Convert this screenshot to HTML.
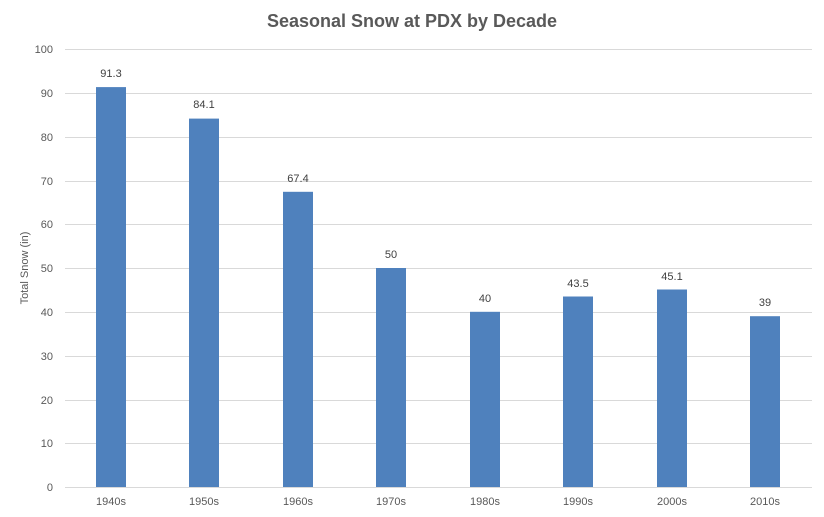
<!DOCTYPE html>
<html><head><meta charset="utf-8"><style>
body{margin:0;background:#fff;}
svg{display:block;font-family:"Liberation Sans",sans-serif;}
</style></head><body>
<svg width="824" height="517" viewBox="0 0 824 517">
<rect width="824" height="517" fill="#fff"/>
<text x="412" y="27" text-anchor="middle" font-size="18" font-weight="bold" fill="#595959">Seasonal Snow at PDX by Decade</text>
<g stroke="#d9d9d9" stroke-width="1">
<line x1="65" x2="812" y1="49.5" y2="49.5"/>
<line x1="65" x2="812" y1="93.5" y2="93.5"/>
<line x1="65" x2="812" y1="137.5" y2="137.5"/>
<line x1="65" x2="812" y1="181.5" y2="181.5"/>
<line x1="65" x2="812" y1="224.5" y2="224.5"/>
<line x1="65" x2="812" y1="268.5" y2="268.5"/>
<line x1="65" x2="812" y1="312.5" y2="312.5"/>
<line x1="65" x2="812" y1="356.5" y2="356.5"/>
<line x1="65" x2="812" y1="400.5" y2="400.5"/>
<line x1="65" x2="812" y1="443.5" y2="443.5"/>
<line x1="65" x2="812" y1="487.5" y2="487.5"/>
</g>
<g font-size="11" fill="#595959" text-anchor="end">
<text x="53" y="53">100</text><text x="53" y="97">90</text><text x="53" y="141">80</text>
<text x="53" y="185">70</text><text x="53" y="228">60</text><text x="53" y="272">50</text>
<text x="53" y="316">40</text><text x="53" y="360">30</text><text x="53" y="404">20</text>
<text x="53" y="447">10</text><text x="53" y="491">0</text>
</g>
<text transform="translate(28,268) rotate(-90)" text-anchor="middle" font-size="11" fill="#595959">Total Snow (in)</text>
<g fill="#4f81bd">
<rect x="96" y="87.1" width="30" height="399.9"/>
<rect x="189" y="118.6" width="30" height="368.4"/>
<rect x="283" y="191.8" width="30" height="295.2"/>
<rect x="376" y="268" width="30" height="219"/>
<rect x="470" y="311.8" width="30" height="175.2"/>
<rect x="563" y="296.5" width="30" height="190.5"/>
<rect x="657" y="289.5" width="30" height="197.5"/>
<rect x="750" y="316.2" width="30" height="170.8"/>
</g>
<g font-size="11" fill="#404040" text-anchor="middle">
<text x="111" y="77">91.3</text><text x="204" y="108">84.1</text><text x="298" y="182">67.4</text>
<text x="391" y="258">50</text><text x="485" y="302">40</text><text x="578" y="287">43.5</text>
<text x="672" y="280">45.1</text><text x="765" y="306">39</text>
</g>
<g font-size="11" fill="#595959" text-anchor="middle">
<text x="111" y="505">1940s</text><text x="204" y="505">1950s</text><text x="298" y="505">1960s</text>
<text x="391" y="505">1970s</text><text x="485" y="505">1980s</text><text x="578" y="505">1990s</text>
<text x="672" y="505">2000s</text><text x="765" y="505">2010s</text>
</g>
</svg>
</body></html>
